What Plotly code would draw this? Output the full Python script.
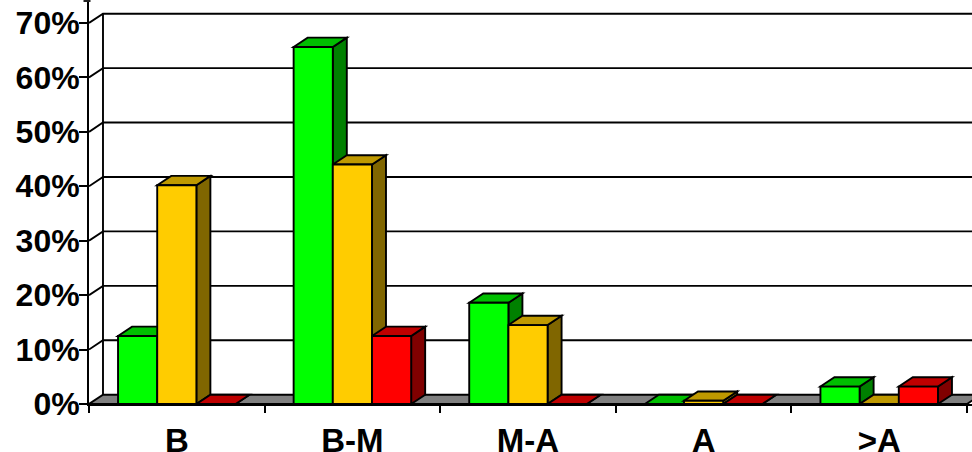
import plotly.graph_objects as go

categories = ["B", "B-M", "M-A", "A", ">A"]
green_values = [12.5, 65.6, 18.6, 0, 3.2]
yellow_values = [40.2, 44.0, 14.5, 0.6, 0]
red_values = [0, 12.5, 0, 0, 3.2]
y_ticks = [0, 10, 20, 30, 40, 50, 60, 70]
y_labels = ["0%", "10%", "20%", "30%", "40%", "50%", "60%", "70%"]

series = [
    ("Green", green_values, "#00FF00", "#00BF00", "#008000"),
    ("Yellow", yellow_values, "#FFCC00", "#BF9900", "#806600"),
    ("Red", red_values, "#FF0000", "#BF0000", "#800000"),
]

W, H = 972, 452
L, B = 88.5, 48
CAT_PX = 175.7
PX_PER_PCT = 381 / 70
X_MAX = (W - L) / CAT_PX
Y_MAX = (H - B) / PX_PER_PCT
DX = 14 / CAT_PX
DY = 9.3 / PX_PER_PCT
BAR_W = 39.2 / CAT_PX
LW = 1.9


def poly(pts, fill, line="black", lw=LW):
    path = "M " + " L ".join(f"{x:.5f},{y:.5f}" for x, y in pts) + " Z"
    return dict(type="path", path=path, xref="x", yref="y", layer="below",
                fillcolor=fill, line=dict(color=line, width=lw))


def seg(pts, lw=LW):
    path = "M " + " L ".join(f"{x:.5f},{y:.5f}" for x, y in pts)
    return dict(type="path", path=path, xref="x", yref="y", layer="below",
                line=dict(color="black", width=lw))


shapes = []
shapes.append(poly([(0, 0), (DX, DY), (len(categories) + DX, DY), (len(categories), 0)], "#808080"))
for v in y_ticks:
    if v:
        shapes.append(seg([(0, v), (DX, v + DY), (X_MAX + DX, v + DY)]))
shapes.append(seg([(DX, DY), (DX, 70 + DY)]))

for c in range(len(categories)):
    for s, (_, vals, _, top, side) in enumerate(series):
        x0 = c + 0.5 + (s - 1.5) * BAR_W
        x1 = x0 + BAR_W
        v = vals[c]
        shapes.append(poly([(x1, 0), (x1 + DX, DY), (x1 + DX, v + DY), (x1, v)], side))
        shapes.append(poly([(x0, v), (x0 + DX, v + DY), (x1 + DX, v + DY), (x1, v)], top))

shapes.append(dict(type="rect", xref="paper", yref="paper",
                   x0=(83 - L) / (W - L), x1=(90 - L) / (W - L),
                   y0=(H - B - 2) / (H - B), y1=1.0,
                   fillcolor="#222222", line=dict(width=0)))

fig = go.Figure()
centers = [i + 0.5 for i in range(len(categories))]
for s, (name, vals, front, _, _) in enumerate(series):
    fig.add_trace(go.Bar(
        x=[c + (s - 1) * BAR_W for c in centers], y=vals, width=BAR_W, name=name,
        marker=dict(color=front, line=dict(color="black", width=LW)),
        cliponaxis=False,
    ))

font = dict(family="Liberation Sans, Arial, sans-serif", color="black", weight=700)
fig.update_layout(
    width=W, height=H, autosize=False, showlegend=False, barmode="overlay",
    margin=dict(l=L, r=0, t=0, b=B, pad=0),
    paper_bgcolor="white", plot_bgcolor="white", shapes=shapes,
    xaxis=dict(range=[0, X_MAX], automargin=False, tickmode="array", tickvals=centers, ticktext=categories,
               ticks="outside", ticklen=6, tickcolor="rgba(0,0,0,0)", tickfont=dict(size=33, **font),
               showgrid=False, zeroline=False, showline=True, linecolor="black", linewidth=LW,
               minor=dict(tickmode="array", tickvals=list(range(len(categories) + 1)), ticks="outside",
                          ticklen=7, tickcolor="black", tickwidth=LW, showgrid=False)),
    yaxis=dict(range=[0, Y_MAX], automargin=False, tickmode="array", tickvals=y_ticks, ticktext=y_labels,
               ticks="outside", ticklen=8, tickcolor="black", tickwidth=LW, tickfont=dict(size=32, **font),
               ticklabelstandoff=-7,
               showgrid=False, zeroline=False, showline=True, linecolor="black", linewidth=LW),
)
fig.write_html("out.html", config={"displayModeBar": False},
               post_script="document.body.style.margin='0';document.documentElement.style.overflow='hidden';")
